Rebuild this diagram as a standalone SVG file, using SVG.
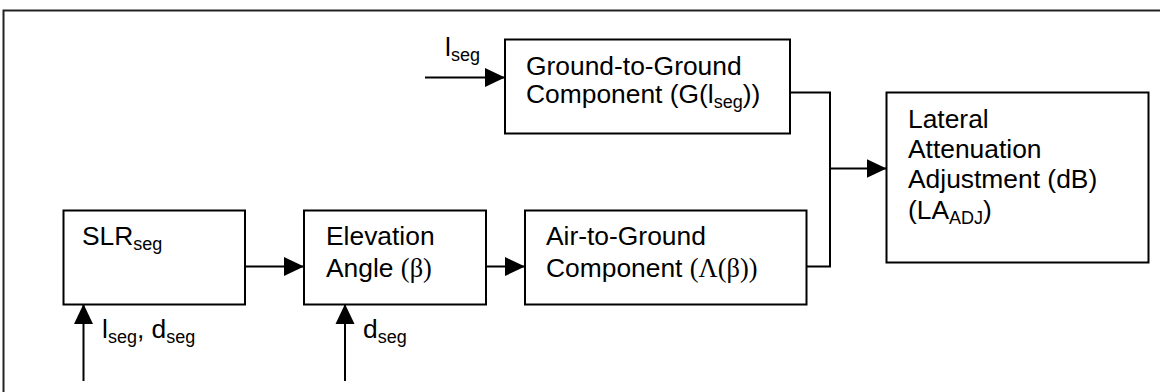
<svg xmlns="http://www.w3.org/2000/svg" width="1160" height="392" viewBox="0 0 1160 392">
<defs>
<marker id="arr" markerWidth="20" markerHeight="20" refX="20" refY="10" orient="auto" markerUnits="userSpaceOnUse">
<path d="M0,0.5 L20,10 L0,19.5 Z" fill="#000"/>
</marker>
<style>
.box{fill:#fff;stroke:#000;stroke-width:2}
.t{font-family:"Liberation Sans",Arial,sans-serif;font-size:26.4px;fill:#000}
.sub{font-size:18px}
.sym{font-family:"Liberation Serif","Times New Roman",serif}
.ln{fill:none;stroke:#000;stroke-width:2}
</style>
</defs>
<rect x="3.5" y="10.5" width="1170" height="400" fill="#fff" stroke="#222" stroke-width="2"/>
<g id="connectors">
<line class="ln" x1="425" y1="77.5" x2="505" y2="77.5" marker-end="url(#arr)"/>
<polyline class="ln" points="790,92.5 830,92.5 830,266.5 806.5,266.5"/>
<line class="ln" x1="830" y1="168.5" x2="886.5" y2="168.5" marker-end="url(#arr)"/>
<line class="ln" x1="245" y1="266.5" x2="304" y2="266.5" marker-end="url(#arr)"/>
<line class="ln" x1="486" y1="266.5" x2="525" y2="266.5" marker-end="url(#arr)"/>
<line class="ln" x1="83.5" y1="381" x2="83.5" y2="304" marker-end="url(#arr)"/>
<line class="ln" x1="345" y1="381" x2="345" y2="304" marker-end="url(#arr)"/>
</g>
<g id="label-top-lseg"><text class="t" x="445" y="56">l<tspan class="sub" dy="5">seg</tspan></text></g>
<g id="label-lseg-dseg"><text class="t" x="102" y="338">l<tspan class="sub" dy="5">seg</tspan><tspan dy="-5">, d</tspan><tspan class="sub" dy="5">seg</tspan></text></g>
<g id="label-dseg"><text class="t" x="363" y="338">d<tspan class="sub" dy="5">seg</tspan></text></g>
<g id="node-ground">
<rect class="box" x="505" y="39.5" width="285" height="94"/>
<text class="t" x="526" y="75">Ground-to-Ground</text>
<text class="t" x="526" y="103">Component (G(l<tspan class="sub" dy="5">seg</tspan><tspan dy="-5">))</tspan></text>
</g>
<g id="node-slr">
<rect class="box" x="63.5" y="210.5" width="181.5" height="94"/>
<text class="t" x="82" y="245">SLR<tspan class="sub" dy="5">seg</tspan></text>
</g>
<g id="node-elevation">
<rect class="box" x="304" y="210.5" width="182" height="94"/>
<text class="t" x="326" y="245">Elevation</text>
<text class="t" x="326" y="277">Angle <tspan class="sym">(β)</tspan></text>
</g>
<g id="node-air">
<rect class="box" x="525" y="210.5" width="281.5" height="94"/>
<text class="t" x="546" y="245">Air-to-Ground</text>
<text class="t" x="546" y="277">Component <tspan class="sym">(Λ(β))</tspan></text>
</g>
<g id="node-la">
<rect class="box" x="886.5" y="92.5" width="262" height="170"/>
<text class="t" x="908" y="128">Lateral</text>
<text class="t" x="908" y="158">Attenuation</text>
<text class="t" x="908" y="188">Adjustment (dB)</text>
<text class="t" x="908" y="219">(LA<tspan class="sub" dy="5">ADJ</tspan><tspan dy="-5">)</tspan></text>
</g>
</svg>
